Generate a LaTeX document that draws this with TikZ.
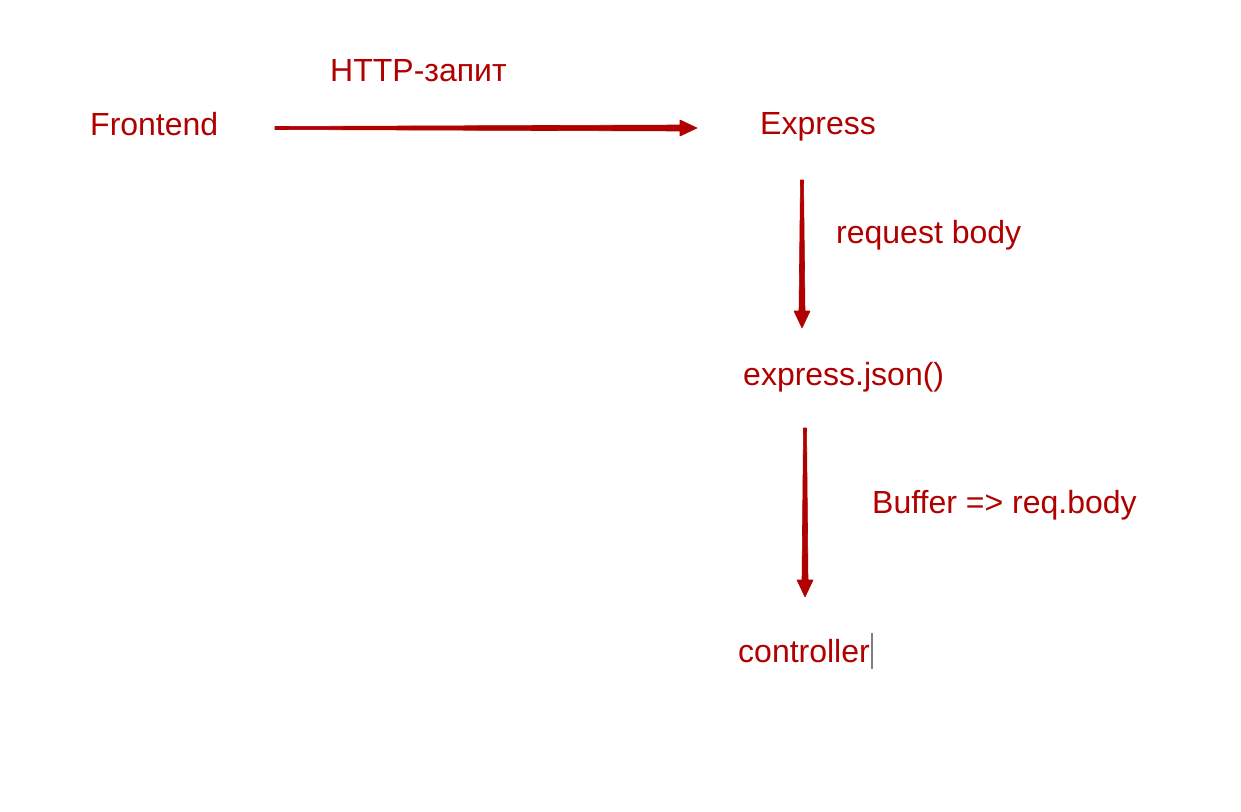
\documentclass[tikz,border=0pt]{standalone}
\usepackage{fontspec}
\setmainfont{Liberation Sans}
\usetikzlibrary{calc}
\definecolor{dred}{RGB}{176,0,0}
\newcommand\taperarrow[2]{%
  \coordinate (hb) at ($(#2)!17pt!(#1)$);
  \fill[conn] ($(#1)!1.5pt!90:(#2)$) -- ($(hb)!3pt!90:(#2)$) -- ($(hb)!8pt!90:(#2)$) -- (#2)
    -- ($(hb)!8pt!-90:(#2)$) -- ($(hb)!3pt!-90:(#2)$) -- ($(#1)!1.5pt!-90:(#2)$) -- cycle;}
\begin{document}
\begin{tikzpicture}[x=1pt,y=-1pt,
  lbl/.style={anchor=base west,inner sep=0pt,text=dred,font=\fontsize{32}{38}\selectfont},
  conn/.style={fill=dred,draw=dred,line width=0.6pt,line join=round}]
\useasboundingbox[fill=white] (0,0) rectangle (1241,811);
\node[lbl] (http) at (330,81) {HTTP-запит};
\node[lbl] (front) at (90,135) {Frontend};
\node[lbl] (express) at (760,134) {Express};
\node[lbl] (reqbody) at (836,243) {request body};
\node[lbl] (json) at (743,385) {express.json()};
\node[lbl] (buffer) at (872,513) {Buffer => req.body};
\node[lbl] (ctrl) at (738,662) {controller};
\coordinate (a1s) at (275,128);
\coordinate (a1e) at (697,128);
\coordinate (a2s) at (802,180);
\coordinate (a2e) at (802,328);
\coordinate (a3s) at (805,428);
\coordinate (a3e) at (805,597);
\taperarrow{a1s}{a1e}
\taperarrow{a2s}{a2e}
\taperarrow{a3s}{a3e}
\draw[gray,line width=1.5pt] ([xshift=2pt]ctrl.east |- 0,633) -- ([xshift=2pt]ctrl.east |- 0,669);
\end{tikzpicture}
\end{document}
